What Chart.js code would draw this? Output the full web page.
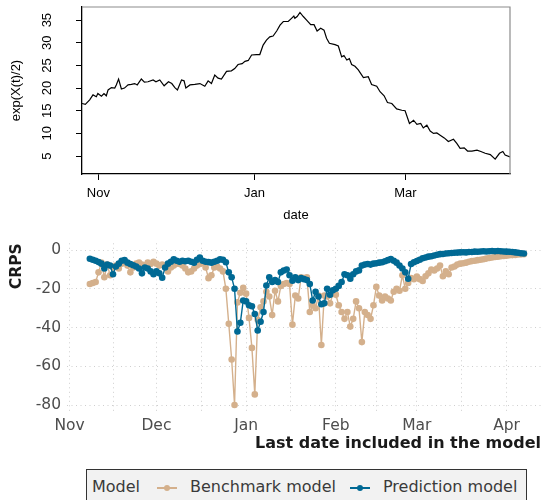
<!DOCTYPE html>
<html>
<head>
<meta charset="utf-8">
<script src="https://cdn.jsdelivr.net/npm/chart.js@4.4.1/dist/chart.umd.min.js"></script>
<style>
  html, body { margin: 0; padding: 0; background: #fff; }
  body { width: 546px; height: 500px; position: relative; overflow: hidden; }
  #top { position: absolute; left: 0; top: 0; }
  #bottom { position: absolute; left: 0; top: 228px; }
  #legend {
    position: absolute; left: 86px; top: 469px; width: 439px; height: 40px;
    border: 1px solid #333; background: #f2f2f2;
    font-family: "DejaVu Sans", sans-serif; font-size: 16px; color: #3a3a3a;
  }
  #legend span { position: absolute; top: 7px; white-space: nowrap; }
  #legend .key { position: absolute; top: 17px; width: 20px; height: 1.5px; }
  #legend .key i { position: absolute; left: 7px; top: -2.5px; width: 6px; height: 6px; border-radius: 50%; }
</style>
</head>
<body>
<canvas id="top" width="546" height="228"></canvas>
<canvas id="bottom" width="546" height="240"></canvas>
<div id="legend">
  <span style="left:5px">Model</span>
  <div class="key" style="left:70px;background:#d4b08c"><i style="background:#d4b08c"></i></div>
  <span style="left:103px">Benchmark model</span>
  <div class="key" style="left:263px;background:#006994"><i style="background:#006994"></i></div>
  <span style="left:296px">Prediction model</span>
</div>
<script>
// Panel superior: serie exp(X(t)/2), dias contados desde el 1 de noviembre
const topDays = [-6.4, -5.1, -3.4, -2.1, -0.8, -0.2, 1.2, 2.2, 3.1, 3.8, 5.1, 6.4, 7.0, 7.9, 9.0, 10.2, 11.6, 12.9, 14.2, 15.2,
  16.8, 18.0, 19.4, 21.4, 22.5, 24.0, 25.7, 27.4, 28.7, 29.9, 30.9, 32.5, 33.5, 34.2, 35.8, 37.7, 39.7, 41.6, 42.9, 44.2,
  45.5, 46.8, 48.1, 50.1, 52.0, 53.3, 54.6, 56.2, 57.3, 58.6, 59.9, 61.8, 63.1, 64.4, 65.7, 67.0, 68.3, 69.7, 71.0, 72.3,
  74.2, 75.5, 76.4, 76.8, 77.7, 78.8, 80.1, 81.4, 83.0, 84.3, 85.5, 86.9, 88.2, 89.2, 90.3, 92.5, 93.8, 95.1, 96.0, 97.1,
  98.1, 99.0, 100.3, 101.6, 103.6, 105.5, 106.8, 108.8, 110.1, 111.7, 113.0, 114.7, 116.6, 118.6, 119.9, 121.6, 123.2, 124.5, 126.0, 127.0,
  128.4, 129.7, 131.0, 132.3, 133.6, 135.2, 136.8, 138.8, 140.1, 141.4, 143.0, 144.3, 146.0, 148.0, 149.5, 151.2, 153.2, 155.1, 156.8, 158.1,
  159.0, 160.9];
const topValues = [16.6, 16.4, 17.4, 18.5, 18.1, 18.8, 18.2, 18.8, 18.3, 19.6, 20.1, 20.0, 20.7, 22.0, 19.8, 20.0, 20.7, 20.8, 21.0, 20.7,
  22.0, 21.3, 21.4, 21.8, 21.4, 21.8, 20.5, 21.4, 21.0, 20.1, 19.6, 21.8, 21.6, 20.0, 20.7, 20.8, 21.0, 20.4, 21.6, 21.0,
  22.9, 22.2, 22.0, 23.7, 23.8, 24.3, 25.2, 25.4, 25.9, 26.1, 27.3, 27.4, 27.4, 29.5, 30.6, 31.3, 31.5, 32.6, 33.9, 34.7,
  34.7, 35.4, 35.9, 35.4, 35.8, 36.7, 35.8, 35.0, 34.0, 34.0, 32.6, 33.2, 32.8, 31.0, 29.9, 29.6, 29.3, 26.9, 27.2, 26.2,
  26.5, 25.2, 24.8, 24.0, 22.3, 22.5, 20.8, 20.4, 19.2, 18.3, 16.8, 16.6, 15.4, 15.1, 15.0, 12.2, 12.9, 12.0, 12.2, 11.2,
  11.8, 10.5, 10.0, 10.1, 9.6, 9.0, 8.2, 8.7, 7.8, 6.7, 6.8, 6.1, 6.1, 6.3, 6.0, 5.6, 5.3, 4.3, 5.6, 6.0,
  5.2, 4.8];
const topTickDays = [0, 61, 120];
const topTickLabels = ['Nov', 'Jan', 'Mar'];
const topYTicks = [5, 10, 15, 20, 25, 30, 35];

// Panel inferior: CRPS diario por modelo
const crpsDays = [7, 8, 9, 10, 11, 12, 13, 14, 15, 16, 17, 18, 19, 20, 21, 22, 23, 24, 25, 26,
  27, 28, 29, 30, 31, 32, 33, 34, 35, 36, 37, 38, 39, 40, 41, 42, 43, 44, 45, 46,
  47, 48, 49, 50, 51, 52, 53, 54, 55, 56, 57, 58, 59, 60, 61, 62, 63, 64, 65, 66,
  67, 68, 69, 70, 71, 72, 73, 74, 75, 76, 77, 78, 79, 80, 81, 82, 83, 84, 85, 86,
  87, 88, 89, 90, 91, 92, 93, 94, 95, 96, 97, 98, 99, 100, 101, 102, 103, 104, 105, 106,
  107, 108, 109, 110, 111, 112, 113, 114, 115, 116, 117, 118, 119, 120, 121, 122, 123, 124, 125, 126,
  127, 128, 129, 130, 131, 132, 133, 134, 135, 136, 137, 138, 139, 140, 141, 142, 143, 144, 145, 146,
  147, 148, 149, 150, 151, 152, 153, 154, 155, 156, 157];
const benchmark = [-17.5, -17, -16.5, -11.5, -6.5, -14, -7.5, -13, -9, -8, -9.5, -7, -6.5, -8, -11.5, -9, -7, -6.5, -7.5, -8,
  -6.5, -7.2, -6, -7, -8, -7.5, -8.5, -11, -9, -8, -7, -7.2, -8, -9.5, -11.5, -11, -9.5, -8, -7.2, -6.8,
  -9, -14.5, -13, -9, -8.5, -9.5, -11, -20, -38, -56.5, -80, -27, -22, -19.5, -22.5, -35, -50.5, -74.5, -36, -29.5,
  -26.5, -21.5, -24, -33.5, -21, -26.5, -18.5, -17.5, -17, -17.5, -38.5, -23.5, -25, -14, -14.5, -14, -32, -28.5, -30, -23.5,
  -49, -23.5, -24, -27.5, -22.5, -23, -28.5, -32, -35.5, -32, -39.5, -35.5, -26.5, -30, -47.5, -32, -33.5, -35.5, -28.5, -19,
  -23.5, -26, -24, -25, -26, -21.5, -20, -21, -13, -20, -17, -14.5, -15, -13.7, -15, -16, -13.5, -12, -10, -10.5,
  -9.5, -8, -13.5, -11, -12.5, -9, -8.5, -7.5, -7, -6.8, -6.5, -6, -5.7, -5.5, -5.2, -5, -4.7, -4.4, -4.1, -3.8,
  -3.6, -3.4, -3.2, -3, -2.9, -2.7, -2.6, -2.5, -2.3, -2.2, -2.1];
const prediction = [-4.5, -5, -5.5, -6.2, -7, -9.5, -7.5, -8, -12.5, -8.5, -7, -5.5, -5.2, -6.5, -7.2, -7.8, -8.5, -9.5, -12, -9,
  -9.5, -11, -12.5, -11, -12, -14.3, -9, -7, -6, -4.8, -5.5, -6, -5.5, -5.8, -5.5, -6, -6.5, -5, -3.8, -5.5,
  -6, -6.2, -6.5, -6, -5.5, -4.8, -5, -6.3, -11.5, -14, -20, -42, -37.5, -26, -26.5, -28.5, -29, -33, -41.5, -37,
  -32, -18.3, -14, -16.5, -15.5, -16.5, -11.5, -10.6, -10, -13, -15.8, -14, -15.5, -14.5, -15, -15.5, -17.5, -26, -21.5, -24,
  -28, -27.5, -20, -23, -20.8, -20, -18.5, -16.5, -12.5, -13, -14.8, -12.5, -11, -10.5, -8, -7.5, -7.2, -7.5, -7, -6.8,
  -6.5, -6.3, -5.8, -5.2, -4.6, -5.5, -6.5, -8, -9.5, -11.5, -14.8, -7.2, -6.3, -5.6, -5, -4.2, -3.8, -3.4, -3.2, -2.8,
  -2.4, -2.1, -2, -1.8, -1.6, -1.5, -1.4, -1.3, -1.2, -1.1, -1.2, -1, -1, -0.8, -0.9, -0.7, -0.6, -0.7, -0.6, -0.5,
  -0.6, -0.5, -0.6, -0.7, -0.8, -0.9, -1, -1.2, -1.4, -1.6, -1.8];
const monthDays = [0, 30, 61, 92, 120, 151];
const monthLabels = ['Nov', 'Dec', 'Jan', 'Feb', 'Mar', 'Apr'];
const midMonthDays = [15, 45.5, 76.5, 106, 135.5];
const crpsTicks = [-80, -70, -60, -50, -40, -30, -20, -10, 0];

const colBench = '#d4b08c';
const colPred = '#006994';

function pares(xs, ys) {
    return xs.map((x, i) => ({ x: x, y: ys[i] }));
}

const fuenteR = { family: 'Liberation Sans', size: 13 };

// Marco gris arriba/derecha y etiquetas del eje y giradas (estilo R)
const marcoR = {
    id: 'marcoR',
    afterDraw(chart) {
        const { ctx, chartArea: a } = chart;
        const sy = chart.scales.y;
        ctx.save();
        ctx.strokeStyle = '#8c8c8c';
        ctx.lineWidth = 1.2;
        ctx.beginPath();
        ctx.moveTo(a.left, a.top);
        ctx.lineTo(a.right, a.top);
        ctx.lineTo(a.right, a.bottom);
        ctx.stroke();
        ctx.fillStyle = '#000';
        ctx.font = fuenteR.size + 'px "' + fuenteR.family + '"';
        ctx.textAlign = 'center';
        ctx.textBaseline = 'middle';
        topYTicks.forEach(v => {
            ctx.save();
            ctx.translate(47, sy.getPixelForValue(v));
            ctx.rotate(-Math.PI / 2);
            ctx.fillText(String(v), 0, 0);
            ctx.restore();
        });
        ctx.restore();
    }
};

new Chart(document.getElementById('top'), {
    type: 'line',
    data: {
        datasets: [{
            data: pares(topDays, topValues),
            borderColor: '#000', borderWidth: 1.2, pointRadius: 0, tension: 0
        }]
    },
    options: {
        responsive: false, animation: false,
        layout: { padding: { left: 0, right: 36, top: 7, bottom: 0 } },
        plugins: { legend: { display: false }, tooltip: { enabled: false } },
        scales: {
            x: {
                type: 'linear', min: -6.4, max: 160.9,
                afterBuildTicks: s => { s.ticks = topTickDays.map(v => ({ value: v })); },
                afterFit: s => { s.height = 54; },
                ticks: { callback: (v, i) => topTickLabels[i], color: '#000', font: fuenteR, padding: 6, maxRotation: 0, autoSkip: false },
                grid: { drawOnChartArea: false, tickLength: 6, color: '#000', lineWidth: 1 },
                border: { color: '#000', width: 1.3 },
                title: { display: true, text: 'date', color: '#000', font: fuenteR, padding: { top: 0, bottom: 5 } }
            },
            y: {
                min: 1.03, max: 37.9,
                afterBuildTicks: s => { s.ticks = topYTicks.map(v => ({ value: v })); },
                afterFit: s => { s.width = 82; },
                ticks: { display: false },
                grid: { drawOnChartArea: false, tickLength: 6, color: '#000', lineWidth: 1 },
                border: { color: '#000', width: 1.3 },
                title: { display: true, text: 'exp(X(t)/2)', color: '#000', font: fuenteR, padding: { top: 9, bottom: 0 } }
            }
        }
    },
    plugins: [marcoR]
});

const fuenteG = { family: 'DejaVu Sans', size: 15.5 };

new Chart(document.getElementById('bottom'), {
    type: 'line',
    data: {
        datasets: [
            {
                label: 'Prediction model', data: pares(crpsDays, prediction), order: 0,
                borderColor: colPred, backgroundColor: colPred, borderWidth: 1.4,
                pointRadius: 3.3, pointBorderWidth: 0, pointBackgroundColor: colPred, tension: 0
            },
            {
                label: 'Benchmark model', data: pares(crpsDays, benchmark), order: 1,
                borderColor: colBench, backgroundColor: colBench, borderWidth: 1.4,
                pointRadius: 3.3, pointBorderWidth: 0, pointBackgroundColor: colBench, tension: 0
            }
        ]
    },
    options: {
        responsive: false, animation: false,
        layout: { padding: { left: 0, right: 5, top: 14.5, bottom: 0 } },
        plugins: { legend: { display: false }, tooltip: { enabled: false } },
        scales: {
            x: {
                type: 'linear', min: -0.9, max: 162.9,
                afterBuildTicks: s => {
                    s.ticks = monthDays.concat(midMonthDays).sort((a, b) => a - b).map(v => ({ value: v }));
                },
                afterFit: s => { s.height = 55.2; },
                ticks: {
                    callback: v => { const i = monthDays.indexOf(v); return i >= 0 ? monthLabels[i] : ''; },
                    color: '#4d4d4d', font: fuenteG, padding: 4, maxRotation: 0, autoSkip: false
                },
                grid: { color: '#cfcfcf', lineWidth: 1, drawTicks: false },
                border: { display: false, dash: [1, 3.5] },
                title: {
                    display: true, text: 'Last date included in the model', align: 'end', color: '#1a1a1a',
                    font: { family: 'DejaVu Sans', size: 16, weight: 'bold' }, padding: { top: 0, bottom: 15 }
                }
            },
            y: {
                min: -84, max: 3.5,
                afterBuildTicks: s => { s.ticks = crpsTicks.map(v => ({ value: v })); },
                afterFit: s => { s.width = 67; },
                ticks: {
                    callback: v => (v % 20 === 0 ? String(v) : ''),
                    color: '#4d4d4d', font: fuenteG, padding: 6
                },
                grid: { color: '#cfcfcf', lineWidth: 1, drawTicks: false },
                border: { display: false, dash: [1, 3.5] },
                title: {
                    display: true, text: 'CRPS', align: 'end', color: '#1a1a1a',
                    font: { family: 'DejaVu Sans', size: 15.5, weight: 'bold' }, padding: { top: 8, bottom: 0 }
                }
            }
        }
    }
});
</script>
</body>
</html>
